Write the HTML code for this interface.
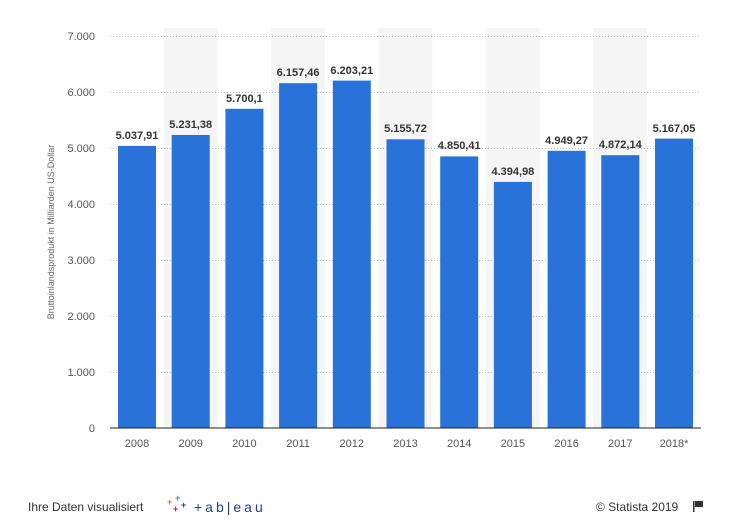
<!DOCTYPE html>
<html><head><meta charset="utf-8"><style>
body{margin:0;background:#fff;width:731px;height:518px;overflow:hidden}
text{font-family:"Liberation Sans",sans-serif}
</style></head><body>
<svg width="731" height="518" xmlns="http://www.w3.org/2000/svg">
<g fill="#f5f5f5">
<rect x="163.7" y="28" width="53.7" height="400"/>
<rect x="271.1" y="28" width="53.7" height="400"/>
<rect x="378.5" y="28" width="53.7" height="400"/>
<rect x="485.9" y="28" width="53.7" height="400"/>
<rect x="593.3" y="28" width="53.7" height="400"/>
</g>
<g stroke="#bbb" stroke-dasharray="1,2" stroke-width="1">
<line x1="110" x2="701" y1="36.5" y2="36.5"/>
<line x1="110" x2="701" y1="92.5" y2="92.5"/>
<line x1="110" x2="701" y1="148.5" y2="148.5"/>
<line x1="110" x2="701" y1="204.5" y2="204.5"/>
<line x1="110" x2="701" y1="260.5" y2="260.5"/>
<line x1="110" x2="701" y1="316.5" y2="316.5"/>
<line x1="110" x2="701" y1="372.5" y2="372.5"/>
</g>
<g font-size="11" fill="#555" text-anchor="end">
<text x="95" y="40">7.000</text><text x="95" y="96">6.000</text><text x="95" y="152">5.000</text>
<text x="95" y="208">4.000</text><text x="95" y="264">3.000</text><text x="95" y="320">2.000</text>
<text x="95" y="376">1.000</text><text x="95" y="432">0</text>
</g>
<text transform="translate(54,232) rotate(-90)" font-size="9" fill="#666" text-anchor="middle">Bruttoinlandsprodukt in Milliarden US-Dollar</text>
<g fill="#2872d9">
<rect x="118" y="145.9" width="38" height="282.1"/>
<rect x="171.7" y="135.0" width="38" height="293.0"/>
<rect x="225.4" y="108.8" width="38" height="319.2"/>
<rect x="279.1" y="83.2" width="38" height="344.8"/>
<rect x="332.8" y="80.6" width="38" height="347.4"/>
<rect x="386.5" y="139.3" width="38" height="288.7"/>
<rect x="440.2" y="156.4" width="38" height="271.6"/>
<rect x="493.9" y="181.9" width="38" height="246.1"/>
<rect x="547.6" y="150.8" width="38" height="277.2"/>
<rect x="601.3" y="155.2" width="38" height="272.8"/>
<rect x="655" y="138.6" width="38" height="289.4"/>
</g>
<line x1="110" x2="701" y1="428" y2="428" stroke="#222" stroke-width="1"/>
<g font-size="11" font-weight="bold" fill="#333" text-anchor="middle">
<text x="137" y="139">5.037,91</text><text x="190.7" y="128">5.231,38</text><text x="244.4" y="102">5.700,1</text>
<text x="298.1" y="76">6.157,46</text><text x="351.8" y="74">6.203,21</text><text x="405.5" y="132">5.155,72</text>
<text x="459.2" y="149">4.850,41</text><text x="512.9" y="175">4.394,98</text><text x="566.6" y="144">4.949,27</text>
<text x="620.3" y="148">4.872,14</text><text x="674" y="132">5.167,05</text>
</g>
<g font-size="11" fill="#555" text-anchor="middle">
<text x="137" y="447">2008</text><text x="190.7" y="447">2009</text><text x="244.4" y="447">2010</text>
<text x="298.1" y="447">2011</text><text x="351.8" y="447">2012</text><text x="405.5" y="447">2013</text>
<text x="459.2" y="447">2014</text><text x="512.9" y="447">2015</text><text x="566.6" y="447">2016</text>
<text x="620.3" y="447">2017</text><text x="674" y="447">2018*</text>
</g>
<text x="28" y="511" font-size="12" fill="#333">Ihre Daten visualisiert</text>
<g font-size="9" font-weight="bold"><text x="167" y="505" fill="#e8762c">+</text><text x="175" y="501" fill="#5b879b">+</text><text x="173" y="512" fill="#c72035">+</text><text x="181" y="508" fill="#1f447e">+</text></g>
<text x="194" y="512" font-size="14" fill="#1f447e" letter-spacing="3">+ab|eau</text>
<text x="596" y="511" font-size="12" fill="#333">© Statista 2019</text>
<rect x="693" y="501" width="1.5" height="11" fill="#333"/><rect x="695" y="501" width="8" height="6" fill="#333"/>
</svg>
</body></html>
